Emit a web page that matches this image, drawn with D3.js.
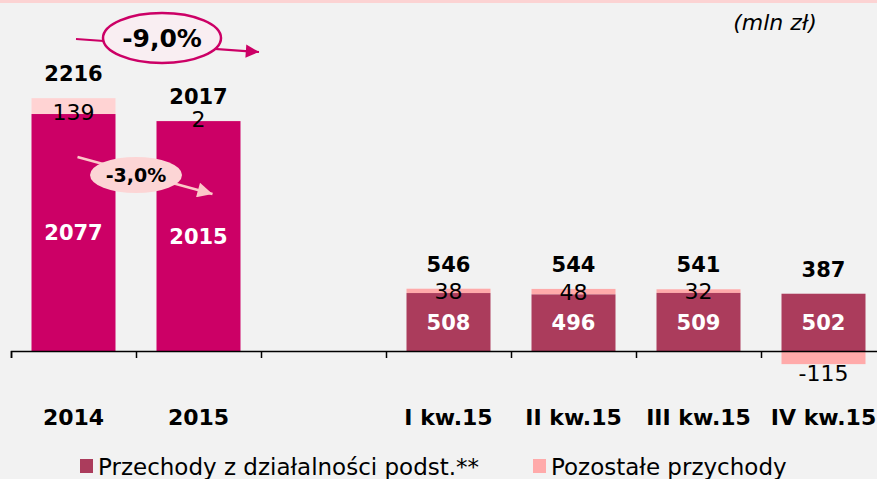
<!DOCTYPE html>
<html>
<head>
<meta charset="utf-8">
<script src="https://cdn.jsdelivr.net/npm/d3@7"></script>
<style>
  body { margin: 0; background: #f2f2f2; }
  svg { display: block; font-family: "DejaVu Sans", sans-serif; }
</style>
</head>
<body>
<script>
// values in mln zł
const categories = ['2014', '2015', '', 'I kw.15', 'II kw.15', 'III kw.15', 'IV kw.15']
const coreRevenue = [2077, 2015, null, 508, 496, 509, 502]
const otherRevenue = [139, 2, null, 38, 48, 32, -115]
const isAnnual = [true, true, false, false, false, false, false]
const seriesNames = ['Przechody z działalności podst.**', 'Pozostałe przychody']
const changeLabels = ['-9,0%', '-3,0%']

const w = 877
const h = 479
const baseY = 351

const colCoreYear = '#cc0066'
const colCoreQ = '#ab3c5c'
const colOtherYear = '#ffd3d3'
const colOtherQ = '#ffaaaa'

const svg = d3.select('body').append('svg')
  .attr('width', w)
  .attr('height', h)

svg.append('rect').attr('width', w).attr('height', h).attr('fill', '#f2f2f2')
svg.append('rect').attr('width', w).attr('height', 3).attr('fill', '#fcd3d3')

const xScale = d3.scaleBand()
  .domain(categories)
  .range([11, 886])
  .paddingInner(0.328)
  .paddingOuter(0.164)

const yScale = d3.scaleLinear()
  .domain([0, 2200])
  .range([baseY, 100])

let dataset = categories.map((c, i) => ({
  cat: c,
  core: coreRevenue[i],
  other: otherRevenue[i],
  annual: isAnnual[i]
})).filter(d => d.core !== null)

const bars = svg.append('g')

// other revenue (stacked on top, or below zero when negative)
bars.selectAll('.other')
  .data(dataset)
  .enter()
  .append('rect')
  .attr('class', 'other')
  .attr('x', d => xScale(d.cat))
  .attr('width', xScale.bandwidth())
  .attr('y', d => d.other >= 0 ? yScale(d.core + d.other) : yScale(0))
  .attr('height', d => d.other >= 0 ? yScale(d.core) - yScale(d.core + d.other) : yScale(d.other) - yScale(0))
  .attr('fill', d => d.annual ? colOtherYear : colOtherQ)

bars.selectAll('.core')
  .data(dataset)
  .enter()
  .append('rect')
  .attr('class', 'core')
  .attr('x', d => xScale(d.cat))
  .attr('width', xScale.bandwidth())
  .attr('y', d => yScale(d.core))
  .attr('height', d => yScale(0) - yScale(d.core))
  .attr('fill', d => d.annual ? colCoreYear : colCoreQ)

// axis with ticks at category boundaries
const edgeScale = d3.scaleLinear().domain([0, categories.length]).range([11, 886])
const xAxis = d3.axisBottom(edgeScale)
  .tickValues(d3.range(categories.length + 1))
  .tickSize(7)
  .tickSizeOuter(7)
  .tickFormat('')
const axisG = svg.append('g')
  .attr('transform', `translate(0, ${baseY})`)
  .call(xAxis)
axisG.selectAll('path, line').attr('stroke', '#000').attr('stroke-width', 1.5)

// category labels
svg.selectAll('.cat-label')
  .data(categories)
  .enter()
  .append('text')
  .attr('x', d => xScale(d) + xScale.bandwidth() / 2)
  .attr('y', 425)
  .attr('text-anchor', 'middle')
  .attr('font-weight', 'bold')
  .attr('font-size', 22)
  .attr('fill', '#000')
  .text(d => d)

const cx = d => xScale(d.cat) + xScale.bandwidth() / 2

// core labels (white, middle of bar)
svg.selectAll('.core-label')
  .data(dataset)
  .enter()
  .append('text')
  .attr('x', cx)
  .attr('y', d => (yScale(d.core) + yScale(0)) / 2)
  .attr('dy', '0.36em')
  .attr('text-anchor', 'middle')
  .attr('font-weight', 'bold')
  .attr('font-size', 21)
  .attr('fill', '#fff')
  .text(d => d.core)

// other labels
svg.selectAll('.other-label')
  .data(dataset)
  .enter()
  .append('text')
  .attr('x', cx)
  .attr('y', d => d.other >= 0 ? yScale(d.core) - 2 : yScale(d.other) + 9)
  .attr('dy', '0.36em')
  .attr('text-anchor', 'middle')
  .attr('font-size', 22)
  .attr('fill', '#000')
  .text(d => d.other)

// totals
svg.selectAll('.total-label')
  .data(dataset)
  .enter()
  .append('text')
  .attr('x', cx)
  .attr('y', d => yScale(d.core + Math.max(d.other, 0)) - 17)
  .attr('text-anchor', 'middle')
  .attr('font-weight', 'bold')
  .attr('font-size', 21)
  .attr('fill', '#000')
  .text(d => d.core + d.other)

// unit
svg.append('text')
  .attr('x', 775)
  .attr('y', 30)
  .attr('text-anchor', 'middle')
  .attr('font-style', 'italic')
  .attr('font-size', 22)
  .text('(mln zł)')

// change annotations
const defs = svg.append('defs')
const marker = (id, col) => defs.append('marker')
  .attr('id', id)
  .attr('viewBox', '0 0 10 10')
  .attr('refX', 10).attr('refY', 5)
  .attr('markerWidth', 8).attr('markerHeight', 6)
  .attr('markerUnits', 'strokeWidth')
  .attr('orient', 'auto')
  .append('path').attr('d', 'M0,0L10,5L0,10z').attr('fill', col)
marker('arrBig', colCoreYear)
marker('arrSmall', '#fcc8c8')

const c0 = xScale('2014') + xScale.bandwidth() / 2
const c1 = xScale('2015') + xScale.bandwidth() / 2

// -3,0%
svg.append('line')
  .attr('x1', c0 + 4).attr('y1', 157)
  .attr('x2', c1 + 14).attr('y2', 194)
  .attr('stroke', '#fcc8c8').attr('stroke-width', 2.5)
  .attr('marker-end', 'url(#arrSmall)')
svg.append('ellipse')
  .attr('cx', (c0 + c1) / 2).attr('cy', 175)
  .attr('rx', 46).attr('ry', 18)
  .attr('fill', '#fcd5d5')
svg.append('text')
  .attr('x', (c0 + c1) / 2).attr('y', 175)
  .attr('dy', '0.36em')
  .attr('text-anchor', 'middle')
  .attr('font-weight', 'bold')
  .attr('font-size', 19)
  .text(changeLabels[1])

// -9,0%
svg.append('line')
  .attr('x1', 76).attr('y1', 39)
  .attr('x2', 259).attr('y2', 52)
  .attr('stroke', colCoreYear).attr('stroke-width', 2.2)
  .attr('marker-end', 'url(#arrBig)')
svg.append('ellipse')
  .attr('cx', (c0 + c1) / 2 + 26).attr('cy', 38)
  .attr('rx', 59).attr('ry', 25)
  .attr('fill', '#f9eef2')
  .attr('stroke', colCoreYear)
  .attr('stroke-width', 2.5)
svg.append('text')
  .attr('x', (c0 + c1) / 2 + 26).attr('y', 38)
  .attr('dy', '0.36em')
  .attr('text-anchor', 'middle')
  .attr('font-weight', 'bold')
  .attr('font-size', 25)
  .text(changeLabels[0])

// legend
const legendX = [80, 533]
const legendCols = [colCoreQ, colOtherQ]
const legend = svg.selectAll('.legend')
  .data(seriesNames)
  .enter()
  .append('g')
  .attr('class', 'legend')
  .attr('transform', (d, i) => `translate(${legendX[i]}, 459)`)
legend.append('rect')
  .attr('width', 13).attr('height', 14)
  .attr('fill', (d, i) => legendCols[i])
legend.append('text')
  .attr('x', 18)
  .attr('y', 16)
  .attr('font-size', 23)
  .text(d => d)
</script>
</body>
</html>
